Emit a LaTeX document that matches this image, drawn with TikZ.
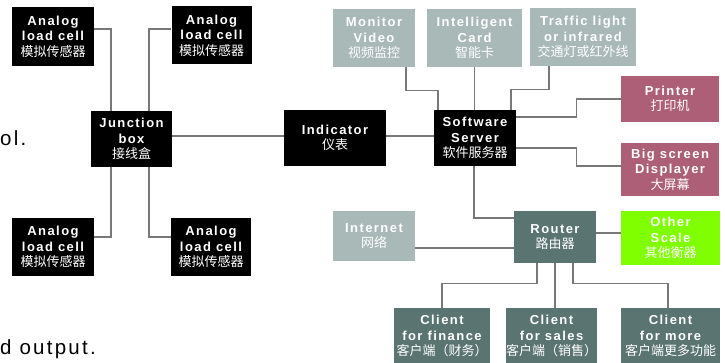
\documentclass[tikz,border=0pt]{standalone}
\usepackage{fontspec}
\setmainfont{Liberation Sans}[LetterSpace=11]
\newfontfamily\cjkfont{Noto Sans CJK SC}
\newcommand{\zhtext}[1]{{\cjkfont\mdseries #1}}

\definecolor{unitgrey}{RGB}{169,185,183}
\definecolor{unitteal}{RGB}{90,116,114}
\definecolor{unitpink}{RGB}{173,95,120}
\definecolor{unitgreen}{RGB}{127,255,0}
\definecolor{wiregrey}{RGB}{120,120,120}

\tikzset{
  unit/.style={inner sep=0pt, align=center, text=white,
    font=\fontsize{13}{15.5}\selectfont\bfseries},
  blackunit/.style={unit, fill=black},
  greyunit/.style={unit, fill=unitgrey},
  pinkunit/.style={unit, fill=unitpink},
  tealunit/.style={unit, fill=unitteal},
  greenunit/.style={unit, fill=unitgreen},
  wire/.style={draw=wiregrey, line width=1.3pt},
  sidetext/.style={inner sep=0pt, anchor=base west, text=black,
    font=\fontsize{20.5}{24}\selectfont}
}

\begin{document}
\begin{tikzpicture}[x=1pt,y=-1pt]
  \useasboundingbox (0,0) rectangle (725,363);

  % load cells and junction box
  \node[blackunit, minimum width=82pt, minimum height=59pt] (lcTL) at (53,36.5) {Analog\\load cell\\\zhtext{模拟传感器}};
  \node[blackunit, minimum width=80pt, minimum height=58pt] (lcTR) at (211.5,35.5) {Analog\\load cell\\\zhtext{模拟传感器}};
  \node[blackunit, minimum width=82pt, minimum height=58pt] (lcBL) at (53,247) {Analog\\load cell\\\zhtext{模拟传感器}};
  \node[blackunit, minimum width=80pt, minimum height=58pt] (lcBR) at (211,247) {Analog\\load cell\\\zhtext{模拟传感器}};
  \node[blackunit, minimum width=81pt, minimum height=56pt] (jbox) at (131.5,139) {Junction\\box\\\zhtext{接线盒}};

  % indicator and server
  \node[blackunit, minimum width=102pt, minimum height=56pt] (indicator) at (335,138) {Indicator\\\zhtext{仪表}};
  \node[blackunit, minimum width=82pt, minimum height=56pt] (server) at (475,138) {Software\\Server\\\zhtext{软件服务器}};

  % inputs above the server
  \node[greyunit, minimum width=82pt, minimum height=58pt] (monitor) at (374,38) {Monitor\\Video\\\zhtext{视频监控}};
  \node[greyunit, minimum width=95pt, minimum height=58pt] (card) at (474.5,38) {Intelligent\\Card\\\zhtext{智能卡}};
  \node[greyunit, minimum width=106pt, minimum height=58pt] (traffic) at (583,37) {Traffic light\\or infrared\\\zhtext{交通灯或红外线}};

  % outputs
  \node[pinkunit, minimum width=98pt, minimum height=46pt] (printer) at (670,99) {Printer\\\zhtext{打印机}};
  \node[pinkunit, minimum width=98pt, minimum height=53pt] (bigscreen) at (670,169.5) {Big screen\\Displayer\\\zhtext{大屏幕}};

  % network
  \node[greyunit, minimum width=82pt, minimum height=50pt] (internet) at (374,236) {Internet\\\zhtext{网络}};
  \node[tealunit, minimum width=82pt, minimum height=52pt] (router) at (555,237) {Router\\\zhtext{路由器}};
  \node[greenunit, minimum width=99pt, minimum height=54pt] (other) at (670.5,238) {Other\\Scale\\\zhtext{其他衡器}};

  % clients
  \node[tealunit, minimum width=96pt, minimum height=56pt] (cFin) at (442,336) {Client\\for finance\\\zhtext{客户端（财务）}};
  \node[tealunit, minimum width=89pt, minimum height=56pt] (cSales) at (551.5,336) {Client\\for sales\\\zhtext{客户端（销售）}};
  \node[tealunit, minimum width=99pt, minimum height=56pt] (cMore) at (670.5,336) {Client\\for more\\\zhtext{客户端更多功能}};

  % cut-off text at the left edge
  \node[sidetext] (tailA) at (0,146) {ol.};
  \node[sidetext] (tailB) at (0,354) {d output.};

  % wiring
  \draw[wire] ([yshift=7.5pt]lcTL.east) -| ([xshift=-20.5pt]jbox.north);
  \draw[wire] ([yshift=6.5pt]lcTR.west) -| ([xshift=17.5pt]jbox.north);
  \draw[wire] ([xshift=-20.5pt]jbox.south) |- ([yshift=10pt]lcBL.east);
  \draw[wire] ([xshift=17.5pt]jbox.south) |- ([yshift=10pt]lcBR.west);
  \draw[wire] ([yshift=3pt]jbox.east) -- ([yshift=2pt]indicator.west);
  \draw[wire] ([yshift=2pt]indicator.east) -- ([yshift=2pt]server.west);

  \draw[wire] ([xshift=32pt]monitor.south) -- ++(0,23) -| ([xshift=-37pt]server.north);
  \draw[wire] (card.south) -- (card.south |- server.north);
  \draw[wire] ([xshift=-34pt]traffic.south) -- ++(0,23) -| ([xshift=36pt]server.north);
  \draw[wire] ([yshift=21pt]server.east) -- ++(60,0) |- (printer.west);
  \draw[wire] ([yshift=-10pt]server.east) -- ++(60,0) |- ([yshift=3.5pt]bigscreen.west);

  \draw[wire] ([xshift=-1pt]server.south) |- ([yshift=19pt]router.west);
  \draw[wire] ([yshift=-12pt]internet.east) -- ([yshift=-11pt]router.west);
  \draw[wire] ([yshift=4pt]router.east) -- ([yshift=5pt]other.west);
  \draw[wire] ([xshift=-18pt]router.south) -- ++(0,20) -| (cFin.north);
  \draw[wire] (router.south) -- (router.south |- cSales.north);
  \draw[wire] ([xshift=18pt]router.south) -- ++(0,20) -| ([xshift=-2.5pt]cMore.north);
\end{tikzpicture}
\end{document}
